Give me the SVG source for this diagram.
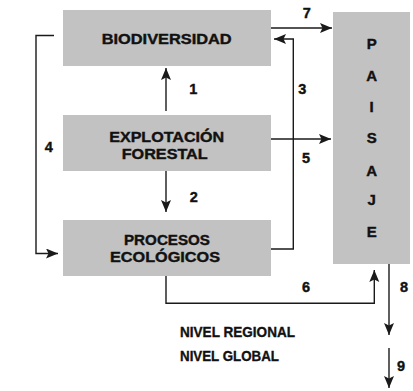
<svg xmlns="http://www.w3.org/2000/svg" width="413" height="391" viewBox="0 0 413 391">
<style>
.box{fill:#c2c2c2}
.t{font-family:"Liberation Sans",Arial,sans-serif;font-weight:bold;font-size:15px;fill:#111;stroke:#111;stroke-width:0.4;text-anchor:middle}
.n{font-family:"Liberation Sans",Arial,sans-serif;font-weight:bold;font-size:14.5px;fill:#111;stroke:#111;stroke-width:0.4;text-anchor:middle}
.lv{font-family:"Liberation Sans",Arial,sans-serif;font-weight:bold;font-size:14.5px;fill:#111;stroke:#111;stroke-width:0.35}
.c{fill:none;stroke:#1a1a1a;stroke-width:1.4;marker-end:url(#ah)}
</style>
<defs>
<marker id="ah" markerUnits="userSpaceOnUse" markerWidth="13" markerHeight="11" refX="12" refY="5" orient="auto">
<path d="M0,0 L12,5 L0,10 L2.5,5 Z" fill="#1a1a1a"/>
</marker>
</defs>
<rect width="413" height="391" fill="#fff"/>
<g id="biodiversidad">
<rect class="box" x="63" y="10" width="208" height="56"/>
<text class="t" x="166.7" y="44.3" textLength="130" lengthAdjust="spacingAndGlyphs">BIODIVERSIDAD</text>
</g>
<g id="explotacion">
<rect class="box" x="63" y="115" width="208" height="56"/>
<text class="t" x="166.7" y="142.3" textLength="115" lengthAdjust="spacingAndGlyphs">EXPLOTACIÓN</text>
<text class="t" x="164.7" y="159.3" textLength="86" lengthAdjust="spacingAndGlyphs">FORESTAL</text>
</g>
<g id="procesos">
<rect class="box" x="63" y="220" width="208" height="56"/>
<text class="t" x="167" y="245" textLength="86" lengthAdjust="spacingAndGlyphs">PROCESOS</text>
<text class="t" x="165" y="261.7" textLength="110" lengthAdjust="spacingAndGlyphs">ECOLÓGICOS</text>
</g>
<g id="paisaje">
<rect class="box" x="333" y="12" width="77" height="252"/>
<text class="t" x="371.7" y="49">P</text>
<text class="t" x="371.7" y="81">A</text>
<text class="t" x="371.7" y="112.3">I</text>
<text class="t" x="371.7" y="143.3">S</text>
<text class="t" x="371.7" y="176">A</text>
<text class="t" x="371.7" y="205">J</text>
<text class="t" x="371.7" y="237.3">E</text>
</g>
<g id="connectors">
<path class="c" d="M166,111 V68"/>
<path class="c" d="M166,171 V212"/>
<path class="c" d="M271,249 H293.3 V39 H274"/>
<path class="c" d="M54,35.5 H36 V253.5 H58"/>
<path class="c" d="M271,139 H331"/>
<path class="c" d="M166,276 V303.3 H374.3 V270"/>
<path class="c" d="M271,28 H332"/>
<path class="c" d="M389,264 V335"/>
<path class="c" d="M389,348 V388"/>
</g>
<g id="labels">
<text class="n" x="306.7" y="18.3">7</text>
<text class="n" x="193.3" y="94.3">1</text>
<text class="n" x="302.3" y="94.3">3</text>
<text class="n" x="48.7" y="152.3">4</text>
<text class="n" x="306" y="163.3">5</text>
<text class="n" x="193.7" y="201.7">2</text>
<text class="n" x="306" y="292">6</text>
<text class="n" x="404" y="292">8</text>
<text class="n" x="401" y="371">9</text>
<text class="lv" x="180" y="336.7" textLength="115" lengthAdjust="spacingAndGlyphs">NIVEL REGIONAL</text>
<text class="lv" x="180" y="360.5" textLength="99" lengthAdjust="spacingAndGlyphs">NIVEL GLOBAL</text>
</g>
</svg>
